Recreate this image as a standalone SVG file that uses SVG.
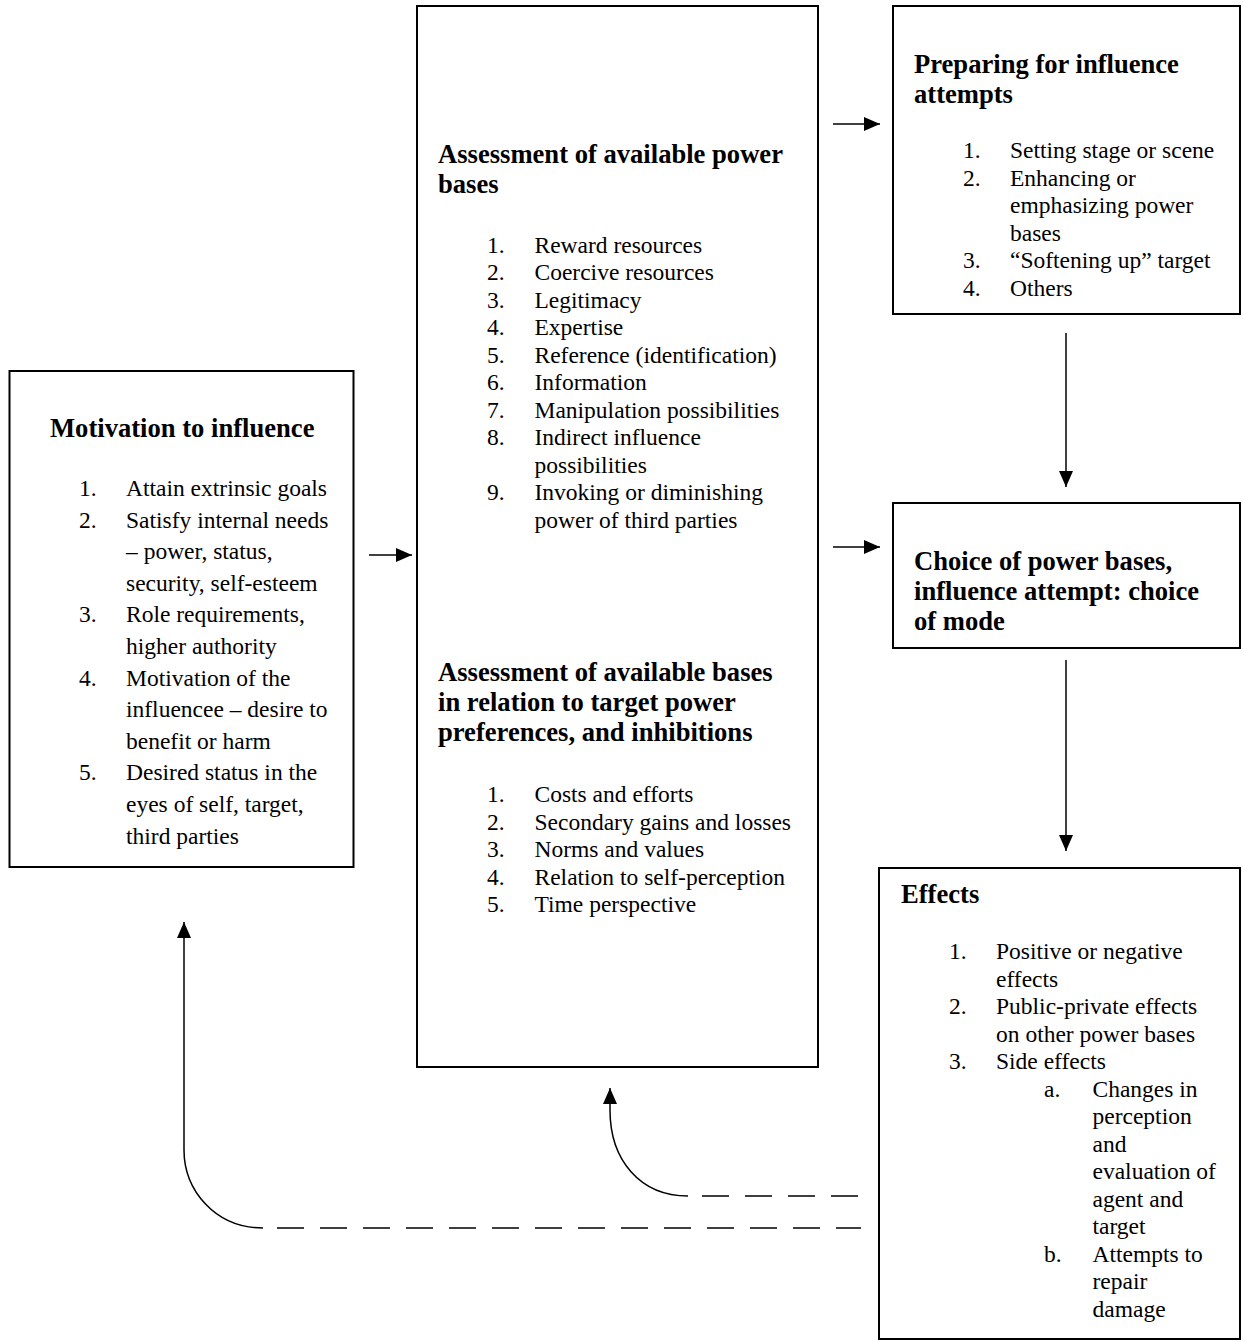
<svg xmlns="http://www.w3.org/2000/svg" width="1243" height="1341" viewBox="0 0 1243 1341">
<style>
.box{fill:#fff;stroke:#000;stroke-width:2}
.h{font-family:"Liberation Serif","Times New Roman",serif;font-weight:bold;font-size:26.6px;fill:#000}
.t{font-family:"Liberation Serif","Times New Roman",serif;font-size:23.5px;fill:#000}
.c{fill:none;stroke:#000;stroke-width:1.5}
.d{fill:none;stroke:#000;stroke-width:1.5;stroke-dasharray:27 16}
</style>
<defs>
<marker id="ah" markerUnits="userSpaceOnUse" markerWidth="16" markerHeight="14" refX="16" refY="7" orient="auto">
<path d="M0,0 L16,7 L0,14 z" fill="#000"/>
</marker>
</defs>
<rect width="1243" height="1341" fill="#fff"/>

<g id="motivation">
<rect class="box" x="9.5" y="371" width="344" height="496"/>
<text class="h" x="50" y="437">Motivation to influence</text>
<g class="t">
<text x="79" y="496">1.</text><text x="126" y="496">Attain extrinsic goals</text>
<text x="79" y="527.6">2.</text><text x="126" y="527.6">Satisfy internal needs</text>
<text x="126" y="559.2">– power, status,</text>
<text x="126" y="590.8">security, self-esteem</text>
<text x="79" y="622.4">3.</text><text x="126" y="622.4">Role requirements,</text>
<text x="126" y="654">higher authority</text>
<text x="79" y="685.6">4.</text><text x="126" y="685.6">Motivation of the</text>
<text x="126" y="717.2">influencee – desire to</text>
<text x="126" y="748.8">benefit or harm</text>
<text x="79" y="780.4">5.</text><text x="126" y="780.4">Desired status in the</text>
<text x="126" y="812">eyes of self, target,</text>
<text x="126" y="843.6">third parties</text>
</g>
</g>

<g id="assessment">
<rect class="box" x="417" y="6" width="401" height="1061"/>
<text class="h" x="438" y="163">Assessment of available power</text>
<text class="h" x="438" y="193">bases</text>
<g class="t">
<text x="487" y="252.7">1.</text><text x="534.5" y="252.7">Reward resources</text>
<text x="487" y="280.2">2.</text><text x="534.5" y="280.2">Coercive resources</text>
<text x="487" y="307.7">3.</text><text x="534.5" y="307.7">Legitimacy</text>
<text x="487" y="335.2">4.</text><text x="534.5" y="335.2">Expertise</text>
<text x="487" y="362.7">5.</text><text x="534.5" y="362.7">Reference (identification)</text>
<text x="487" y="390.2">6.</text><text x="534.5" y="390.2">Information</text>
<text x="487" y="417.7">7.</text><text x="534.5" y="417.7">Manipulation possibilities</text>
<text x="487" y="445.2">8.</text><text x="534.5" y="445.2">Indirect influence</text>
<text x="534.5" y="472.7">possibilities</text>
<text x="487" y="500.2">9.</text><text x="534.5" y="500.2">Invoking or diminishing</text>
<text x="534.5" y="527.7">power of third parties</text>
</g>
<text class="h" x="438" y="681">Assessment of available bases</text>
<text class="h" x="438" y="711">in relation to target power</text>
<text class="h" x="438" y="741">preferences, and inhibitions</text>
<g class="t">
<text x="487" y="802">1.</text><text x="534.5" y="802">Costs and efforts</text>
<text x="487" y="829.5">2.</text><text x="534.5" y="829.5">Secondary gains and losses</text>
<text x="487" y="857">3.</text><text x="534.5" y="857">Norms and values</text>
<text x="487" y="884.5">4.</text><text x="534.5" y="884.5">Relation to self-perception</text>
<text x="487" y="912">5.</text><text x="534.5" y="912">Time perspective</text>
</g>
</g>

<g id="preparing">
<rect class="box" x="893" y="6" width="347" height="308"/>
<text class="h" x="914" y="72.7">Preparing for influence</text>
<text class="h" x="914" y="102.7">attempts</text>
<g class="t">
<text x="963" y="158.3">1.</text><text x="1010" y="158.3">Setting stage or scene</text>
<text x="963" y="185.8">2.</text><text x="1010" y="185.8">Enhancing or</text>
<text x="1010" y="213.3">emphasizing power</text>
<text x="1010" y="240.8">bases</text>
<text x="963" y="268.3">3.</text><text x="1010" y="268.3">“Softening up” target</text>
<text x="963" y="295.8">4.</text><text x="1010" y="295.8">Others</text>
</g>
</g>

<g id="choice">
<rect class="box" x="893" y="503" width="347" height="145"/>
<text class="h" x="914" y="570">Choice of power bases,</text>
<text class="h" x="914" y="600">influence attempt: choice</text>
<text class="h" x="914" y="630">of mode</text>
</g>

<g id="effects">
<rect class="box" x="879" y="868" width="361" height="471"/>
<text class="h" x="901" y="903">Effects</text>
<g class="t">
<text x="949" y="959">1.</text><text x="996" y="959">Positive or negative</text>
<text x="996" y="986.5">effects</text>
<text x="949" y="1014">2.</text><text x="996" y="1014">Public-private effects</text>
<text x="996" y="1041.5">on other power bases</text>
<text x="949" y="1069">3.</text><text x="996" y="1069">Side effects</text>
<text x="1044" y="1096.5">a.</text><text x="1092.5" y="1096.5">Changes in</text>
<text x="1092.5" y="1124">perception</text>
<text x="1092.5" y="1151.5">and</text>
<text x="1092.5" y="1179">evaluation of</text>
<text x="1092.5" y="1206.5">agent and</text>
<text x="1092.5" y="1234">target</text>
<text x="1044" y="1261.5">b.</text><text x="1092.5" y="1261.5">Attempts to</text>
<text x="1092.5" y="1289">repair</text>
<text x="1092.5" y="1316.5">damage</text>
</g>
</g>

<g id="connectors">
<path class="c" d="M369 555 L412 555" marker-end="url(#ah)"/>
<path class="c" d="M833 124 L880 124" marker-end="url(#ah)"/>
<path class="c" d="M833 547 L880 547" marker-end="url(#ah)"/>
<path class="c" d="M1066 333 L1066 487" marker-end="url(#ah)"/>
<path class="c" d="M1066 660 L1066 851" marker-end="url(#ah)"/>
<path class="d" d="M277 1228 L861 1228"/>
<path class="c" d="M263 1228 C215 1228 184 1190 184 1150 L184 922" marker-end="url(#ah)"/>
<path class="d" d="M702 1196 L861 1196"/>
<path class="c" d="M688 1196 C640 1196 610 1160 610 1110 L610 1088" marker-end="url(#ah)"/>
</g>
</svg>
